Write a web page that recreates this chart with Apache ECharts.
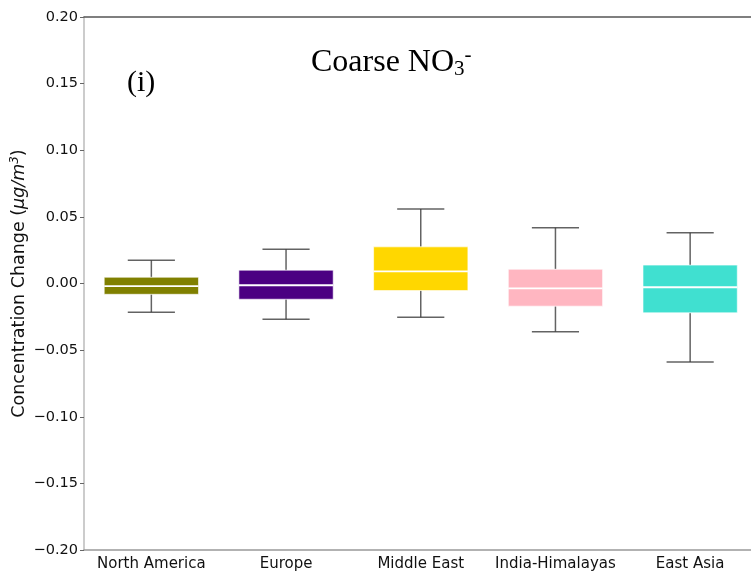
<!DOCTYPE html>
<html>
<head>
<meta charset="utf-8">
<script src="https://cdn.jsdelivr.net/npm/echarts@6/dist/echarts.min.js"></script>
<style>
  html, body { margin: 0; padding: 0; background: #fff; }
  #chart { width: 751px; height: 577px; }
</style>
</head>
<body>
<div id="chart"></div>
<script>
// Regions along the x axis
const regions = ['North America', 'Europe', 'Middle East', 'India-Himalayas', 'East Asia'];
// Box statistics per region (µg/m³)
const whiskerLow  = [-0.0215, -0.0268, -0.0254, -0.0362, -0.0590];
const quartile1   = [-0.0081, -0.0118, -0.0053, -0.0170, -0.0220];
const medians     = [-0.0019, -0.0013,  0.0091, -0.0036, -0.0028];
const quartile3   = [ 0.0047,  0.0100,  0.0275,  0.0107,  0.0138];
const whiskerHigh = [ 0.0175,  0.0257,  0.0560,  0.0419,  0.0381];
const boxColors   = ['#808000', '#4B0082', '#FFD700', '#FFB6C1', '#40E0D0'];
// Y axis tick values
const yTicks = [-0.20, -0.15, -0.10, -0.05, 0.00, 0.05, 0.10, 0.15, 0.20];

const boxData = regions.map((r, i) => [i, whiskerLow[i], quartile1[i], medians[i], quartile3[i], whiskerHigh[i]]);

function fmtTick(v) {
  if (Math.abs(v) < 1e-9) return '0.00';
  const s = v.toFixed(2);
  return s.replace('-', '\u2212');
}

function renderBox(params, api) {
  const idx = api.value(0);
  const lo = api.coord([idx, api.value(1)]);
  const q1 = api.coord([idx, api.value(2)]);
  const md = api.coord([idx, api.value(3)]);
  const q3 = api.coord([idx, api.value(4)]);
  const hi = api.coord([idx, api.value(5)]);
  const band = api.size([1, 0])[0];
  const boxW = band * 0.7;
  const capW = boxW * 0.5;
  const x = lo[0];
  const whiskerStyle = { stroke: 'rgba(60,60,60,0.8)', lineWidth: 1.5 };
  return {
    type: 'group',
    children: [
      { type: 'line', shape: { x1: x, y1: hi[1], x2: x, y2: q3[1] }, style: whiskerStyle },
      { type: 'line', shape: { x1: x, y1: q1[1], x2: x, y2: lo[1] }, style: whiskerStyle },
      { type: 'line', shape: { x1: x - capW / 2, y1: hi[1], x2: x + capW / 2, y2: hi[1] }, style: whiskerStyle },
      { type: 'line', shape: { x1: x - capW / 2, y1: lo[1], x2: x + capW / 2, y2: lo[1] }, style: whiskerStyle },
      { type: 'rect', shape: { x: x - boxW / 2, y: q3[1], width: boxW, height: q1[1] - q3[1] },
        style: { fill: boxColors[idx], stroke: 'rgba(255,255,255,0.6)', lineWidth: 1 } },
      { type: 'line', shape: { x1: x - boxW / 2, y1: md[1], x2: x + boxW / 2, y2: md[1] },
        style: { stroke: '#ffffff', lineWidth: 1.8 } }
    ]
  };
}

const chart = echarts.init(document.getElementById('chart'), null, { renderer: 'canvas' });
chart.setOption({
  animation: false,
  backgroundColor: '#ffffff',
  grid: { left: 84, right: -6.5, top: 17, bottom: 27, containLabel: false, outerBoundsMode: 'none' },
  xAxis: [{
    type: 'category',
    data: regions,
    boundaryGap: true,
    axisLine: { onZero: false, lineStyle: { color: '#999', width: 1.5 } },
    axisTick: { alignWithLabel: true, length: 4, lineStyle: { color: '#666' } },
    axisLabel: { interval: 0, color: '#111', fontFamily: 'DejaVu Sans', fontSize: 15, margin: 7 },
    splitLine: { show: false }
  }, {
    type: 'category',
    position: 'top',
    data: regions,
    axisLine: { onZero: false, lineStyle: { color: '#555', width: 1.5 } },
    axisTick: { show: false },
    axisLabel: { show: false }
  }],
  yAxis: {
    type: 'value',
    min: yTicks[0],
    max: yTicks[yTicks.length - 1],
    interval: 0.05,
    axisLine: { show: true, lineStyle: { color: '#bbb', width: 1.5 } },
    axisTick: { show: true, length: 4, lineStyle: { color: '#666' } },
    axisLabel: { color: '#111', fontFamily: 'DejaVu Sans', fontSize: 14.5, margin: 6, formatter: fmtTick },
    splitLine: { show: false },
    name: '{n|Concentration Change (}{i|\u03BCg/m}{sup|3}{n|)}',
    nameLocation: 'middle',
    nameRotate: 90,
    nameGap: 54,
    nameMoveOverlap: false,
    nameTextStyle: {
      rich: {
        n: { fontFamily: 'DejaVu Sans', fontSize: 17.5, color: '#111' },
        i: { fontFamily: 'DejaVu Sans', fontStyle: 'italic', fontSize: 17.5, color: '#111' },
        sup: { fontFamily: 'DejaVu Sans', fontStyle: 'italic', fontSize: 12, color: '#111', verticalAlign: 'top', padding: [0, 0, 9, 0] }
      }
    }
  },
  graphic: [
    {
      type: 'text', left: 311, top: 45,
      style: {
        text: '{t|Coarse NO}{sub|3}{sup|-}',
        rich: {
          t: { fontFamily: 'Liberation Serif', fontSize: 32, fill: '#000' },
          sub: { fontFamily: 'Liberation Serif', fontSize: 21, fill: '#000', verticalAlign: 'bottom', padding: [10, 0, 0, 0] },
          sup: { fontFamily: 'Liberation Serif', fontSize: 21, fill: '#000', verticalAlign: 'top', padding: [0, 0, 14, 0] }
        }
      }
    },
    {
      type: 'text', left: 127, top: 68,
      style: { text: '(i)', fontFamily: 'Liberation Serif', fontSize: 30, fill: '#000' }
    }
  ],
  series: [{
    type: 'custom',
    renderItem: renderBox,
    encode: { x: 0, y: [1, 2, 3, 4, 5] },
    data: boxData,
    z: 5
  }]
});
</script>
</body>
</html>
